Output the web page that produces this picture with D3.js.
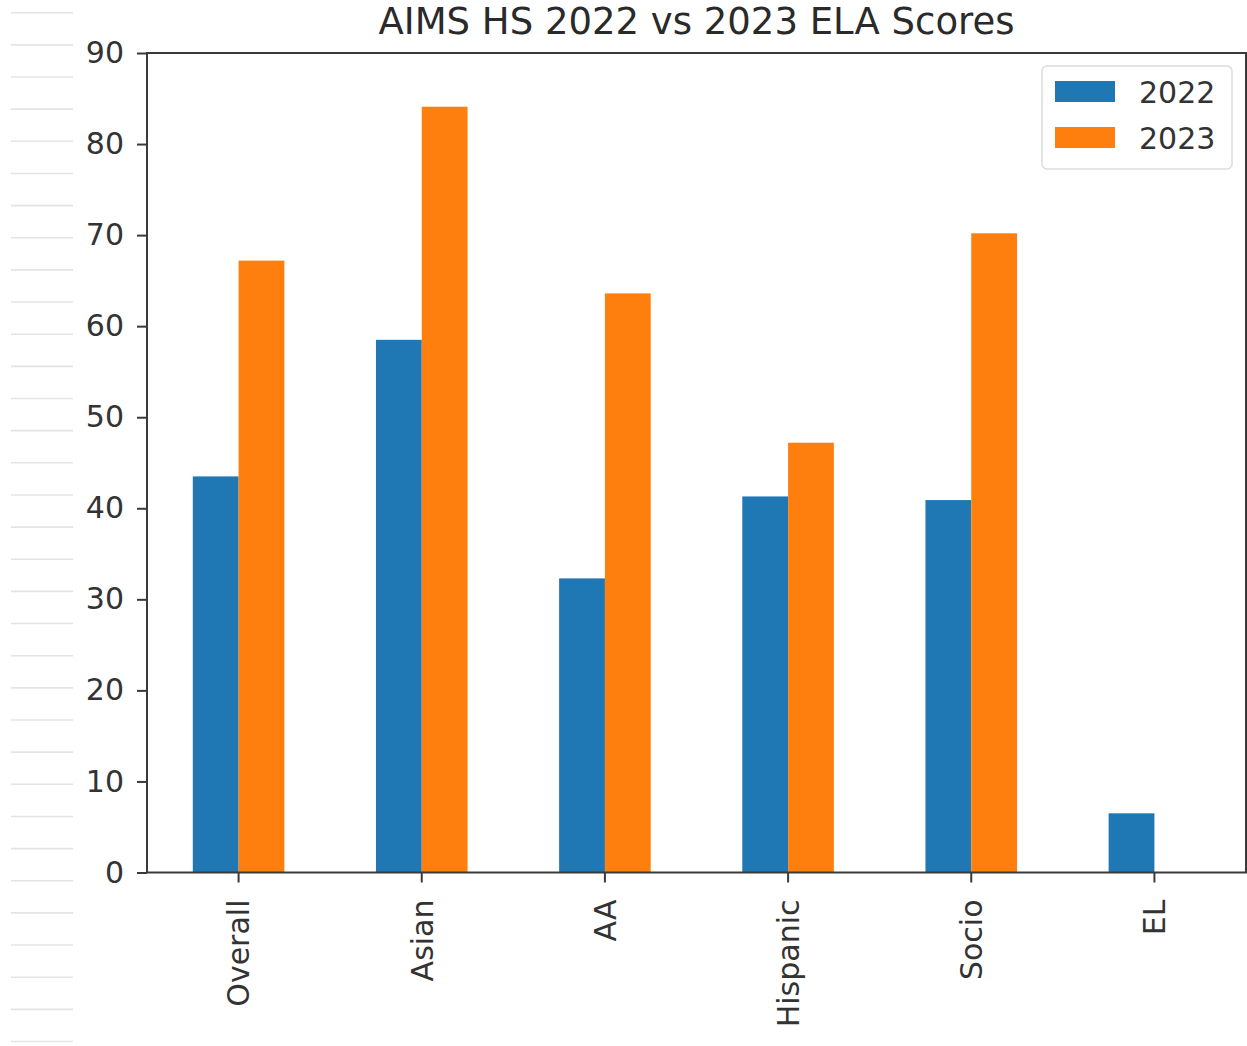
<!DOCTYPE html>
<html>
<head>
<meta charset="utf-8">
<script src="https://cdn.jsdelivr.net/npm/d3@7"></script>
<style>
  body { margin: 0; background: #fff; }
  svg { display: block; font-family: "DejaVu Sans", sans-serif; }
</style>
</head>
<body>
<script>
// chart values
var categories = ["Overall", "Asian", "AA", "Hispanic", "Socio", "EL"];
var seriesNames = ["2022", "2023"];
var scores2022 = [43.5, 58.5, 32.3, 41.3, 40.9, 6.5];
var scores2023 = [67.2, 84.1, 63.6, 47.2, 70.2, null];
var yTicks = [0, 10, 20, 30, 40, 50, 60, 70, 80, 90];
var colors = ["#1f77b4", "#ff7f0e"];

// set the dimensions of the page and plot box
var W = 1247, H = 1046;
var plotL = 147, plotR = 1246, plotT = 53, plotB = 872.5;
var fs = 30;

var svg = d3.select("body").append("svg")
    .attr("width", W)
    .attr("height", H);

// notebook-style faint lines down the left edge
svg.append("g").selectAll("line")
    .data(d3.range(33))
  .enter().append("line")
    .attr("x1", 11).attr("x2", 73)
    .attr("y1", function(i) { return 12.7 + i * 32.15; })
    .attr("y2", function(i) { return 12.7 + i * 32.15; })
    .attr("stroke", "#e4e4e4")
    .attr("stroke-width", 1.6);

// scales
var x = d3.scaleBand()
    .domain(categories)
    .range([plotL, plotR])
    .paddingInner(0.5)
    .paddingOuter(0.25);
var x1 = d3.scaleBand()
    .domain(seriesNames)
    .range([0, x.bandwidth()]);
var y = d3.scaleLinear()
    .domain([0, 90])
    .range([plotB, plotT]);

// rows of {cat, series, value}
var rows = [];
categories.forEach(function(c, i) {
    rows.push({cat: c, s: "2022", v: scores2022[i], col: colors[0]});
    if (scores2023[i] != null) rows.push({cat: c, s: "2023", v: scores2023[i], col: colors[1]});
});

svg.append("g").selectAll("rect")
    .data(rows)
  .enter().append("rect")
    .attr("x", function(d) { return x(d.cat) + x1(d.s); })
    .attr("width", x1.bandwidth())
    .attr("y", function(d) { return y(d.v); })
    .attr("height", function(d) { return plotB - y(d.v); })
    .attr("fill", function(d) { return d.col; });

var axisColor = "#3a3a3a";

// y axis
var gy = svg.append("g")
    .attr("transform", "translate(" + plotL + ",0)")
    .call(d3.axisLeft(y).tickValues(yTicks).tickSize(10).tickPadding(13));
gy.select(".domain").remove();
gy.selectAll("line").attr("stroke", axisColor).attr("stroke-width", 2);
gy.selectAll("text")
    .attr("font-size", fs)
    .attr("font-family", "DejaVu Sans")
    .attr("fill", "#333");

// x axis with rotated labels
var gx = svg.append("g")
    .attr("transform", "translate(0," + plotB + ")")
    .call(d3.axisBottom(x).tickSize(10));
gx.select(".domain").remove();
gx.selectAll("line").attr("stroke", axisColor).attr("stroke-width", 2);
gx.selectAll("text")
    .attr("transform", "rotate(-90)")
    .attr("text-anchor", "end")
    .attr("x", -27)
    .attr("y", 0)
    .attr("dy", "0.36em")
    .attr("font-size", fs)
    .attr("font-family", "DejaVu Sans")
    .attr("fill", "#333");

// frame (all four spines)
svg.append("rect")
    .attr("x", plotL).attr("y", plotT)
    .attr("width", plotR - plotL).attr("height", plotB - plotT)
    .attr("fill", "none")
    .attr("stroke", axisColor)
    .attr("stroke-width", 2);

// title
svg.append("text")
    .attr("x", (plotL + plotR) / 2)
    .attr("y", 34)
    .attr("text-anchor", "middle")
    .attr("font-size", 37)
    .attr("fill", "#2a2a2a")
    .text("AIMS HS 2022 vs 2023 ELA Scores");

// legend
var lg = svg.append("g").attr("transform", "translate(1042,66)");
lg.append("rect")
    .attr("width", 190).attr("height", 103)
    .attr("rx", 5)
    .attr("fill", "#fff")
    .attr("stroke", "#dcdcdc")
    .attr("stroke-width", 1.5);
seriesNames.forEach(function(s, i) {
    lg.append("rect")
        .attr("x", 13).attr("y", 15 + i * 46)
        .attr("width", 60).attr("height", 21)
        .attr("fill", colors[i]);
    lg.append("text")
        .attr("x", 97).attr("y", 26 + i * 46)
        .attr("dy", "0.36em")
        .attr("font-size", fs)
        .attr("fill", "#333")
        .text(s);
});
</script>
</body>
</html>
